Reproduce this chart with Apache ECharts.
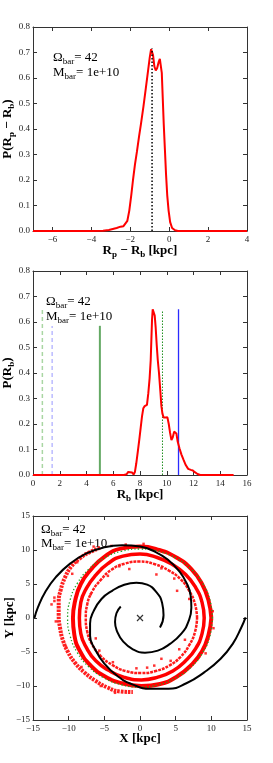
<!DOCTYPE html>
<html><head><meta charset="utf-8">
<script src="https://cdn.jsdelivr.net/npm/echarts@6/dist/echarts.min.js"></script>
<style>html,body{margin:0;padding:0;background:#fff}#c{width:273px;height:763px}</style>
</head><body><div id="c"></div>
<script>
const FONT = '"Liberation Serif", "DejaVu Serif", serif';

// ---------- Panel 1 : P(Rp - Rb) ----------
const p1XTicks = [-6, -4, -2, 0, 2, 4];
const p1Curve = [[-7,0],[-4,0],[-3.4,0.001],[-3.1,0.004],[-2.9,0.008],[-2.7,0.012],[-2.5,0.017],[-2.35,0.019],[-2.25,0.022],[-2.15,0.04],[-2.05,0.08],[-1.95,0.14],[-1.86,0.2],[-1.76,0.26],[-1.66,0.31],[-1.55,0.37],[-1.45,0.42],[-1.32,0.49],[-1.2,0.56],[-1.1,0.62],[-1.0,0.68],[-0.93,0.713],[-0.88,0.716],[-0.83,0.69],[-0.76,0.645],[-0.69,0.63],[-0.62,0.638],[-0.55,0.66],[-0.48,0.675],[-0.43,0.668],[-0.38,0.62],[-0.33,0.52],[-0.28,0.42],[-0.22,0.32],[-0.16,0.22],[-0.1,0.14],[-0.03,0.08],[0.05,0.035],[0.15,0.012],[0.3,0.003],[0.45,0],[4,0]];
const p1Median = [[-0.88,0],[-0.88,0.716]];

// ---------- Panel 2 : P(Rb) ----------
const p2Curve = [[0,0],[6.8,0],[7.0,0.003],[7.12,0.012],[7.25,0.018],[7.4,0.01],[7.52,0.002],[7.62,0.012],[7.72,0.045],[7.85,0.098],[7.95,0.14],[8.05,0.185],[8.15,0.23],[8.25,0.262],[8.35,0.27],[8.45,0.268],[8.52,0.275],[8.62,0.32],[8.72,0.38],[8.8,0.45],[8.85,0.53],[8.9,0.61],[8.95,0.65],[9.0,0.652],[9.05,0.645],[9.1,0.625],[9.17,0.58],[9.25,0.51],[9.33,0.45],[9.42,0.4],[9.52,0.33],[9.6,0.27],[9.68,0.24],[9.77,0.225],[9.9,0.222],[10.05,0.226],[10.15,0.2],[10.25,0.165],[10.35,0.137],[10.45,0.148],[10.55,0.17],[10.62,0.176],[10.72,0.163],[10.82,0.13],[10.95,0.105],[11.1,0.08],[11.25,0.06],[11.42,0.039],[11.6,0.024],[11.8,0.02],[11.95,0.018],[12.1,0.011],[12.3,0.004],[12.5,0],[15,0]];
const p2LightGreenDash = [[0.7,0],[0.7,0.653]];
const p2LightBlueDash = [[1.43,0],[1.43,0.584]];
const p2GreenSolid = [[5.0,0],[5.0,0.585]];
const p2GreenDotted = [[9.68,0],[9.68,0.646]];
const p2BlueSolid = [[10.88,0],[10.88,0.65]];

// ---------- Panel 3 : X-Y map ----------
const p3BandOuterLeft = [[-5.6,10.3],[-7.0,9.7],[-8.4,8.8],[-9.6,7.6],[-10.5,6.0],[-11.1,4.2],[-11.4,2.3],[-11.4,0.4],[-11.2,-1.5],[-10.8,-3.3],[-10.1,-5.0],[-9.1,-6.6],[-7.8,-8.0],[-6.3,-9.2],[-4.6,-10.2],[-2.8,-10.8],[-1.0,-10.9]];
const p3Ring1 = [[10.0,0],[9.6,2.6],[8.7,5.0],[7.2,7.2],[5.1,8.9],[2.7,10.0],[0,10.5],[-2.7,10.2],[-5.0,9.0],[-6.9,7.1],[-8.3,5.0],[-9.1,2.5],[-9.4,0],[-9.2,-2.5],[-8.4,-4.9],[-6.9,-7.0],[-4.9,-8.6],[-2.5,-9.6],[0.2,-10.0],[2.8,-9.7],[5.2,-8.6],[7.2,-6.9],[8.7,-4.9],[9.6,-2.5],[10.0,0]];
const p3Ring2 = [[9.0,0],[8.7,2.3],[7.8,4.5],[6.4,6.4],[4.5,7.9],[2.4,8.9],[0,9.4],[-2.4,9.1],[-4.5,8.0],[-6.2,6.3],[-7.5,4.4],[-8.3,2.3],[-8.5,0],[-8.3,-2.3],[-7.5,-4.4],[-6.2,-6.3],[-4.4,-7.7],[-2.3,-8.7],[0.2,-9.1],[2.5,-8.7],[4.6,-7.8],[6.4,-6.3],[7.8,-4.5],[8.7,-2.3],[9.0,0]];
const p3Ring3 = [[8.0,0],[7.7,2.1],[6.9,4.0],[5.7,5.7],[4.0,7.0],[2.1,7.9],[0,8.3],[-2.1,8.0],[-4.0,7.1],[-5.5,5.6],[-6.7,3.9],[-7.4,2.0],[-7.6,0],[-7.4,-2.0],[-6.7,-3.9],[-5.5,-5.6],[-3.9,-6.9],[-2.0,-7.8],[0.2,-8.1],[2.2,-7.8],[4.1,-7.0],[5.7,-5.7],[6.9,-4.0],[7.7,-2.1],[8.0,0]];
const p3Scatter = [[2.3,6.4],[5.2,4.0],[3.0,7.3],[-1.5,7.2],[-4.5,6.2],[6.3,-3.2],[5.5,-4.6],[3.0,-6.0],[4.3,-6.3],[2.0,-7.0],[-5.7,-4.8],[-3.8,-6.5],[-6.2,-3.0],[-0.5,-7.4],[1.0,-7.3],[6.9,2.8],[-6.9,3.5],[-2.9,7.6],[4.8,5.8],[-12.4,2.0],[-11.8,-0.5],[-12.0,3.0],[-10.4,-4.2],[-9.5,6.5],[-8.8,8.2],[-7.6,9.5],[-6.5,10.5],[-3.5,-11.0],[-5.5,-10.0],[-8.2,-7.2],[0.5,10.9],[-2.0,10.8],[10.3,-1.5],[10.2,1.0],[9.2,-5.2],[-4.0,10.6],[-12.0,2.5]];
const p3Circle = [[10.15,0],[9.80,2.63],[8.79,5.08],[7.18,7.18],[5.08,8.79],[2.63,9.80],[0,10.15],[-2.63,9.80],[-5.08,8.79],[-7.18,7.18],[-8.79,5.08],[-9.80,2.63],[-10.15,0],[-9.80,-2.63],[-8.79,-5.08],[-7.18,-7.18],[-5.08,-8.79],[-2.63,-9.80],[0,-10.15],[2.63,-9.80],[5.08,-8.79],[7.18,-7.18],[8.79,-5.08],[9.80,-2.63],[10.15,0]];
const p3Arm1 = [[-2.7,1.7],[-3.3,0.7],[-3.5,-0.6],[-3.2,-2.0],[-2.4,-3.4],[-1.0,-4.6],[0.7,-5.1],[2.5,-4.8],[4.2,-3.8],[5.8,-2.3],[6.8,-0.5],[7.2,1.5],[7.1,3.3],[6.5,5.2],[5.4,7.0],[4.0,8.5],[2.2,9.7],[0.0,10.5],[-2.5,10.7],[-5.0,10.4],[-7.5,9.5],[-9.8,8.0],[-11.8,6.0],[-13.3,3.8],[-14.3,1.6],[-14.8,0.0]];
const p3Arm2 = [[2.8,-1.4],[3.3,0.4],[3.1,2.2],[2.3,3.8],[1.0,4.9],[-0.5,5.2],[-2.2,4.9],[-3.9,4.0],[-5.4,2.8],[-6.5,1.0],[-7.0,-0.8],[-7.0,-2.6],[-6.3,-4.6],[-5.0,-6.7],[-3.2,-8.5],[-1.0,-9.8],[1.5,-10.4],[4.0,-10.4],[6.5,-9.6],[9.0,-8.0],[11.3,-6.0],[13.0,-3.8],[14.2,-1.4],[14.8,0.1]];
const p3Center = [[0,0]];

// annotation text
const annOmega = '{a|\u03A9}{s|bar}{a|= 42}';
const annMass = '{a|M}{s|bar}{a|= 1e+10}';

const FRAME = '#333';
const minus = v => (v < 0 ? '\u2212' + Math.abs(v) : String(v));
const subRich = {
  b: {fontFamily: FONT, fontWeight: 'bold', fontSize: 13, color: '#000'},
  s: {fontFamily: FONT, fontWeight: 'bold', fontSize: 9, color: '#000', padding: [7, 0, 0, 0]}
};

function xAxes(grid, min, max, interval, custom, name) {
  const base = {type: 'value', gridIndex: grid, min, max, splitLine: {show: false},
    axisLine: {show: true, onZero: false, lineStyle: {color: FRAME, width: 1}}};
  const tick = {show: true, inside: true, length: 4, lineStyle: {color: FRAME}};
  const lab = {show: true, fontFamily: FONT, fontSize: 9, color: '#222', margin: 4, formatter: minus};
  if (custom) { tick.customValues = custom; lab.customValues = custom; }
  const bottom = Object.assign({}, base, {position: 'bottom', axisTick: tick, axisLabel: lab,
    name, nameLocation: 'middle', nameGap: 12, nameMoveOverlap: false, nameTextStyle: {rich: subRich}});
  if (interval) bottom.interval = interval;
  const top = Object.assign({}, base, {position: 'top', axisTick: Object.assign({}, tick), axisLabel: {show: false}});
  if (interval) top.interval = interval;
  return [bottom, top];
}
function yAxes(grid, min, max, interval, fmt, name, gap) {
  const base = {type: 'value', gridIndex: grid, min, max, interval, splitLine: {show: false},
    axisLine: {show: true, onZero: false, lineStyle: {color: FRAME, width: 1}},
    axisTick: {show: true, inside: true, length: 4, lineStyle: {color: FRAME}}};
  const left = Object.assign({}, base, {position: 'left',
    axisLabel: {show: true, fontFamily: FONT, fontSize: 9, color: '#222', margin: 3, formatter: fmt},
    name, nameLocation: 'middle', nameGap: gap, nameRotate: 90, nameMoveOverlap: false, nameTextStyle: {rich: subRich}});
  const right = Object.assign({}, base, {position: 'right', axisLabel: {show: false}});
  return [left, right];
}

const yFmt = v => v.toFixed(1);
const xAxis = [].concat(
  xAxes(0, -7, 4, null, p1XTicks, '{b|R}{s|p}{b| \u2212 R}{s|b}{b| [kpc]}'),
  xAxes(1, 0, 16, 2, null, '{b|R}{s|b}{b| [kpc]}'),
  xAxes(2, -15, 15, 5, null, '{b|X [kpc]}')
);
const yAxis = [].concat(
  yAxes(0, 0, 0.8, 0.1, yFmt, '{b|P(R}{s|p}{b| \u2212 R}{s|b}{b|)}', 17),
  yAxes(1, 0, 0.8, 0.1, yFmt, '{b|P(R}{s|b}{b|)}', 17),
  yAxes(2, -15, 15, 5, minus, '{b|Y [kpc]}', 17)
);

function line(xi, data, color, width, type, extra) {
  return Object.assign({type: 'line', xAxisIndex: xi, yAxisIndex: xi, data, showSymbol: false,
    symbol: 'none', silent: true, animation: false,
    lineStyle: {color, width, type: type || 'solid'}}, extra || {});
}

const series = [
  line(0, p1Curve, '#ff0000', 2),
  line(0, p1Median, '#000', 1.5, [1.5, 2]),
  line(2, p2LightGreenDash, '#a9d6a3', 1.5, [4, 3]),
  line(2, p2LightBlueDash, '#a9a9ff', 1.2, [4, 3]),
  line(2, p2GreenSolid, '#64a964', 2),
  line(2, p2GreenDotted, '#1f8f1f', 1, [1.5, 1.5]),
  line(2, p2BlueSolid, '#2b2bff', 1.3),
  line(2, p2Curve, '#ff0000', 2),
  line(4, p3BandOuterLeft, '#ff2020', 4, [2.5, 1], {smooth: true}),
  line(4, p3Ring1, '#ff0000', 4, null, {smooth: true}),
  line(4, p3Ring2, '#ff0000', 3.5, null, {smooth: true}),
  line(4, p3Ring3, '#ff1a1a', 2.5, [3, 1], {smooth: true}),
  {type: 'scatter', xAxisIndex: 4, yAxisIndex: 4, data: p3Scatter, symbol: 'rect', symbolSize: 2.5,
    itemStyle: {color: '#ff0000'}, silent: true, animation: false},
  line(4, p3Circle, '#22a022', 1.3, [1.3, 2.2], {smooth: true}),
  line(4, p3Arm1, '#000', 2, null, {smooth: true}),
  line(4, p3Arm2, '#000', 2, null, {smooth: true}),
  {type: 'scatter', xAxisIndex: 4, yAxisIndex: 4, data: p3Center, symbol: 'path://M0,0L10,10M10,0L0,10',
    symbolSize: 6, itemStyle: {color: 'transparent', borderColor: '#000', borderWidth: 1.2}, silent: true, animation: false}
];

const annRich = {
  a: {fontFamily: FONT, fontSize: 13, color: '#000'},
  s: {fontFamily: FONT, fontSize: 9, color: '#000', padding: [7, 0, 0, 0]}
};
function ann(x, y, text) {
  return {type: 'text', x, y, silent: true, style: {text, rich: annRich, textVerticalAlign: 'middle', verticalAlign: 'middle'}};
}

const chart = echarts.init(document.getElementById('c'), null, {renderer: 'canvas'});
const gridBase = {containLabel: false, outerBoundsMode: 'none'};
chart.setOption({
  animation: false,
  backgroundColor: '#fff',
  grid: [
    Object.assign({left: 33, top: 27, width: 214, height: 204}, gridBase),
    Object.assign({left: 33, top: 271, width: 214, height: 204}, gridBase),
    Object.assign({left: 33, top: 516, width: 214, height: 204}, gridBase)
  ],
  xAxis, yAxis, series,
  graphic: [
    ann(53, 58, annOmega), ann(53, 73, annMass),
    ann(46, 302, annOmega), ann(46, 317, annMass),
    ann(41, 530, annOmega), ann(41, 544, annMass)
  ]
});
</script></body></html>
